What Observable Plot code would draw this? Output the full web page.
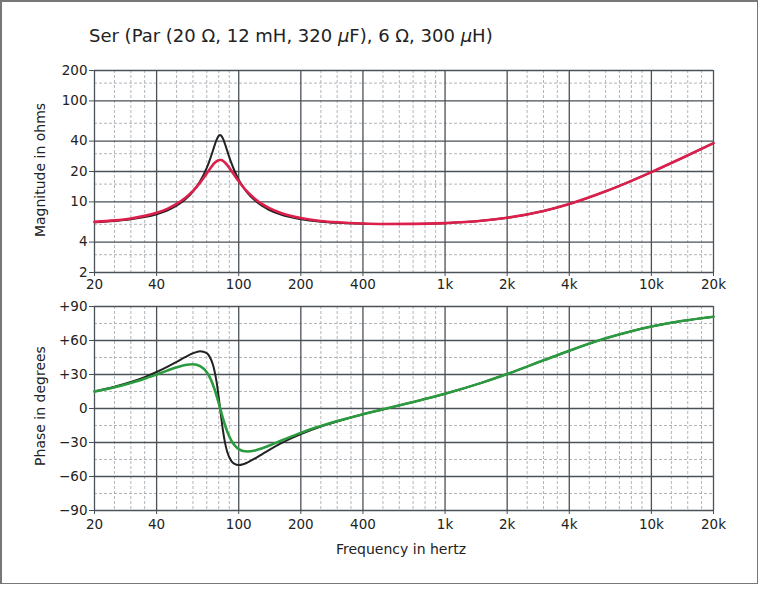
<!DOCTYPE html>
<html><head><meta charset="utf-8">
<script src="https://cdn.jsdelivr.net/npm/d3@7"></script>
<script src="https://cdn.jsdelivr.net/npm/@observablehq/plot@0.6"></script>
<style>
body{margin:0;background:#fff;font-family:"DejaVu Sans",Arial,sans-serif;}
#wrap{position:relative;width:768px;height:590px;overflow:hidden;background:#fff;}
.border{position:absolute;left:0;top:0;width:755px;height:581px;border:1px solid #777;border-left-width:2px;border-top-width:2px;}
.title{position:absolute;left:89px;top:25px;font-size:18px;color:#222;white-space:nowrap;}
.ylab{position:absolute;font-size:14px;color:#222;transform:translate(-50%,-50%) rotate(-90deg);white-space:nowrap;}
.xlab{position:absolute;font-size:14px;color:#222;transform:translate(-50%,-50%);white-space:nowrap;}
.panel{position:absolute;left:0;}
</style>
</head><body>
<div id="wrap">
  <div class="border"></div>
  <div class="title">Ser (Par (20 Ω, 12 mH, 320 <i>μ</i>F), 6 Ω, 300 <i>μ</i>H)</div>
  <div class="ylab" style="left:40px;top:170px;">Magnitude in ohms</div>
  <div class="ylab" style="left:40px;top:406px;">Phase in degrees</div>
  <div class="xlab" style="left:401px;top:549px;">Frequency in hertz</div>
  <div class="panel" id="panelTop" style="top:55px;"></div>
  <div class="panel" id="panelBot" style="top:290px;"></div>
</div>
<script>
// ---- data ----
const freq = [20,25,30,35,40,45,50,55,60,65,70,72,75,76,78,80,81,82,84,86,88,92,95,100,105,110,120,130,140,160,200,250,300,400,500,700,1000,1500,2000,3000,4000,6000,8000,10000,14000,20000];
const magMeasured = [6.34,6.56,6.86,7.27,7.81,8.54,9.54,10.92,12.84,15.53,19.16,20.81,23.28,24.01,25.21,25.89,26.0,25.95,25.40,24.40,23.14,20.41,18.54,15.98,14.06,12.63,10.71,9.52,8.73,7.78,6.92,6.48,6.28,6.11,6.05,6.06,6.17,6.50,6.96,8.13,9.54,12.73,16.17,19.73,27.03,38.15];
const magIdeal = [6.28,6.47,6.72,7.07,7.55,8.22,9.16,10.54,12.63,15.98,21.77,25.24,32.24,35.04,40.83,45.17,45.98,45.63,42.12,36.93,31.93,24.44,20.70,16.62,14.07,12.38,10.30,9.11,8.36,7.49,6.74,6.37,6.20,6.07,6.03,6.04,6.16,6.50,6.96,8.13,9.54,12.73,16.17,19.73,27.03,38.15];
const phaseMeasured = [14.9,18.7,22.6,26.3,30.0,33.4,36.3,38.4,39.1,37.4,31.9,28.3,21.0,18.1,11.6,4.7,1.1,-2.4,-9.2,-15.2,-20.4,-28.1,-32.0,-35.8,-37.5,-37.9,-37.0,-35.1,-32.8,-28.5,-21.5,-15.5,-11.1,-5.1,-0.7,5.7,13.0,22.6,30.4,42.5,51.0,61.9,68.2,72.3,77.2,81.0];
const phaseIdeal = [15.1,19.2,23.4,27.7,32.2,36.7,41.1,45.3,48.7,50.5,48.8,46.2,38.6,34.7,24.1,9.9,1.9,-6.0,-20.3,-31.0,-38.4,-46.2,-48.7,-49.9,-49.2,-47.7,-44.0,-40.2,-36.7,-30.8,-22.6,-15.9,-11.4,-5.1,-0.8,5.7,13.0,22.6,30.4,42.5,51.0,61.9,68.2,72.3,77.2,81.0];

const xMajor = [20,40,100,200,400,1000,2000,4000,10000,20000];
const xMinor = [25,30,35,50,60,70,80,90,250,300,350,500,600,700,800,900,2500,3000,3500,5000,6000,7000,8000,9000,12500,15000,17500];
const magTicks = [2,4,10,20,40,100,200];
const magMinor = [3,6,15,30,60,150];
const phaseTicks = [-90,-60,-30,0,30,60,90];
const phaseMinor = [-75,-45,-15,15,45,75];

const rows = freq.map((f,i)=>({f, mm:magMeasured[i], mi:magIdeal[i], pm:phaseMeasured[i], pi:phaseIdeal[i]}));
const fmtX = d => d >= 1000 ? (d/1000)+"k" : String(d);
const fmtP = d => d > 0 ? "+"+d : d < 0 ? "\u2212"+(-d) : "0";

const majorStyle = {stroke:"#4a5157", strokeWidth:1.3};
const minorStyle = {stroke:"#a9adb2", strokeWidth:0.9, strokeDasharray:"3,2"};
const fontStyle = {fontFamily:'"DejaVu Sans",Arial,sans-serif', fontSize:"13.5px", color:"#222", background:"transparent", overflow:"visible"};

function xLabels(dy){
  return Plot.text(xMajor, {x:d=>d, text:fmtX, frameAnchor:"bottom", dy, fill:"#222", fontSize:13.5});
}

const plotTop = Plot.plot({
  width:768, height:245, marginLeft:94, marginRight:55, marginTop:15, marginBottom:28,
  x:{type:"log", domain:[20,20000]},
  y:{type:"log", domain:[2,200]},
  style:fontStyle,
  marks:[
    Plot.ruleX(xMinor, minorStyle),
    Plot.ruleY(magMinor, minorStyle),
    Plot.ruleX(xMajor, majorStyle),
    Plot.ruleY(magTicks, majorStyle),
    Plot.axisX({ticks:xMajor, tickFormat:()=>"", tickSize:4, label:null, stroke:"#4a5157"}),
    xLabels(16),
    Plot.axisY({ticks:magTicks, tickFormat:d=>String(d), tickSize:5, tickPadding:2, label:null, stroke:"#4a5157"}),
    Plot.line(rows, {x:"f", y:"mi", stroke:"#222", strokeWidth:2, curve:"monotone-x"}),
    Plot.line(rows, {x:"f", y:"mm", stroke:"#dc1f4b", strokeWidth:2.6, curve:"monotone-x"})
  ]
});
document.getElementById("panelTop").appendChild(plotTop);

const plotBot = Plot.plot({
  width:768, height:250, marginLeft:94, marginRight:55, marginTop:16, marginBottom:30,
  x:{type:"log", domain:[20,20000]},
  y:{domain:[-90,90]},
  style:fontStyle,
  marks:[
    Plot.ruleX(xMinor, minorStyle),
    Plot.ruleY(phaseMinor, minorStyle),
    Plot.ruleX(xMajor, majorStyle),
    Plot.ruleY(phaseTicks, majorStyle),
    Plot.axisX({ticks:xMajor, tickFormat:()=>"", tickSize:4, label:null, stroke:"#4a5157"}),
    xLabels(18),
    Plot.axisY({ticks:phaseTicks, tickFormat:fmtP, tickSize:5, tickPadding:2, label:null, stroke:"#4a5157"}),
    Plot.line(rows, {x:"f", y:"pi", stroke:"#222", strokeWidth:2, curve:"monotone-x"}),
    Plot.line(rows, {x:"f", y:"pm", stroke:"#2b9b3f", strokeWidth:2.6, curve:"monotone-x"})
  ]
});
document.getElementById("panelBot").appendChild(plotBot);
</script>
</body></html>
